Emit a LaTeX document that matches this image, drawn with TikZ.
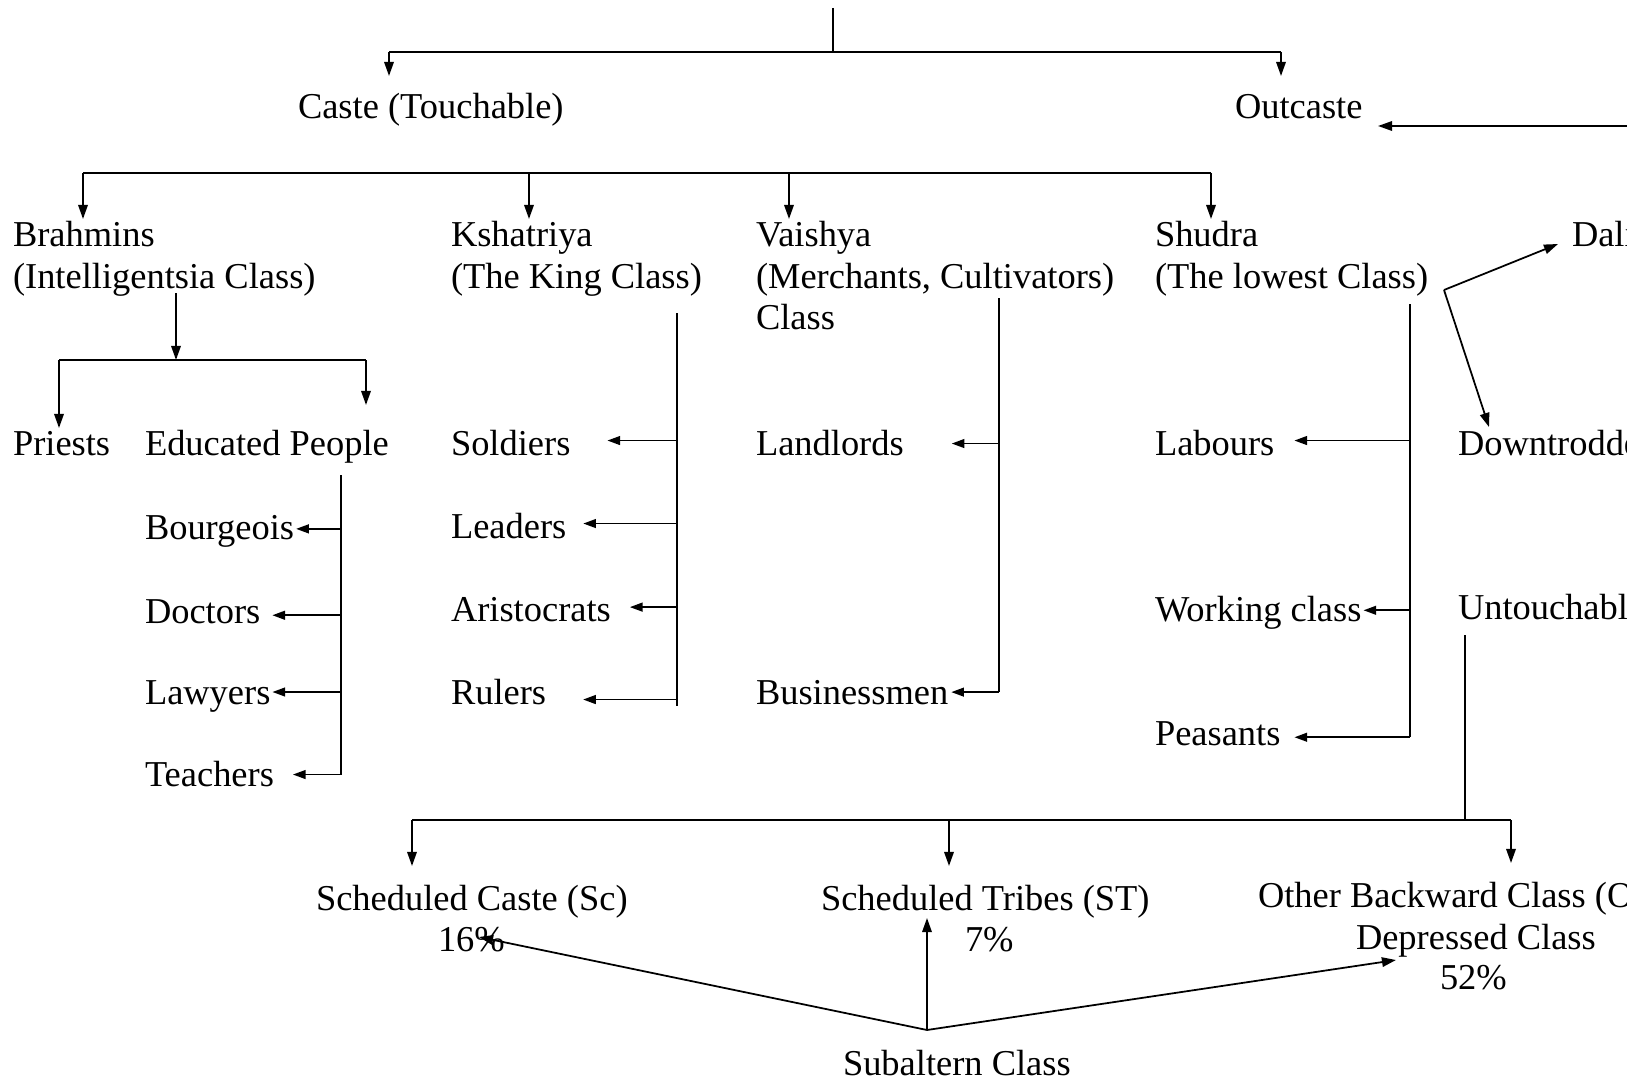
\documentclass[tikz,border=0pt]{standalone}
\usepackage{fontspec}
\setmainfont{Liberation Serif}
\usetikzlibrary{arrows.meta,calc}
\newcommand\fs{\fontsize{10.36pt}{12pt}\selectfont}
\begin{document}
\begin{tikzpicture}[x=0.01cm,y=-0.01cm,
  lbl/.style={anchor=base west,inner sep=0pt,outer sep=0pt,font=\fs},
  ln/.style={line width=0.5pt,black},
  arr/.style={ln,-{Triangle[length=4pt,width=2.7pt]}},
  tarr/.style={ln,{Triangle[length=3.6pt,width=2.5pt]}-},
]
\useasboundingbox (0,0) rectangle (1627,1082);
\clip (0,0) rectangle (1627,1082);

% ---- texts
\node[lbl] (caste) at (298,119) {Caste (Touchable)};
\node[lbl] (outc) at (1235,119) {Outcaste};
\node[lbl] (brah) at (13,247) {Brahmins};
\node[lbl] (brah2) at (13,288) {(Intelligentsia Class)};
\node[lbl] (ksh) at (451,247) {Kshatriya};
\node[lbl] (ksh2) at (451,288) {(The King Class)};
\node[lbl] (vai) at (756,247) {Vaishya};
\node[lbl] (vai2) at (756,288) {(Merchants, Cultivators)};
\node[lbl] (vai3) at (756,329) {Class};
\node[lbl] (shu) at (1155,247) {Shudra};
\node[lbl] (shu2) at (1155,288) {(The lowest Class)};
\node[lbl] (dal) at (1572,247) {Dalits};
\node[lbl] (pri) at (13,455) {Priests};
\node[lbl] (edu) at (145,455) {Educated People};
\node[lbl] (bour) at (145,539) {Bourgeois};
\node[lbl] (doc) at (145,623) {Doctors};
\node[lbl] (law) at (145,704) {Lawyers};
\node[lbl] (tea) at (145,786) {Teachers};
\node[lbl] (sol) at (451,455) {Soldiers};
\node[lbl] (lea) at (451,538) {Leaders};
\node[lbl] (ari) at (451,621) {Aristocrats};
\node[lbl] (rul) at (451,704) {Rulers};
\node[lbl] (land) at (756,455) {Landlords};
\node[lbl] (bus) at (756,704) {Businessmen};
\node[lbl] (lab) at (1155,455) {Labours};
\node[lbl] (work) at (1155,621) {Working class};
\node[lbl] (peas) at (1155,745) {Peasants};
\node[lbl] (down) at (1458,455) {Downtrodden};
\node[lbl] (unt) at (1458,619) {Untouchables};
\node[lbl] (sc) at (316,910) {Scheduled Caste (Sc)};
\node[lbl] (sc2) at (438,951) {16\%};
\node[lbl] (st) at (821,910) {Scheduled Tribes (ST)};
\node[lbl] (st2) at (965,951) {7\%};
\node[lbl] (obc) at (1258,907) {Other Backward Class (OBC)};
\node[lbl] (obc2) at (1356,949) {Depressed Class};
\node[lbl] (obc3) at (1440,989) {52\%};
\node[lbl] (sub) at (843,1075) {Subaltern Class};

% ---- top level
\coordinate (t0) at (833,8);
\coordinate (t1) at (833,52);
\coordinate (casteIn) at (389,76);
\coordinate (outIn) at (1281,76);
\draw[ln] (t0) -- (t1);
\draw[ln,line width=0.8pt] (casteIn |- t1) -- (outIn |- t1);
\draw[arr] (casteIn |- t1) -- (casteIn);
\draw[arr] (outIn |- t1) -- (outIn);
\coordinate (rEdge) at (1627,126);
\coordinate (outR) at (1378,126);
\draw[arr] (rEdge) -- (outR);

% ---- second level
\coordinate (h2) at (83,173);
\coordinate (brIn) at (83,219);
\coordinate (ksIn) at (529,219);
\coordinate (vaIn) at (789,219);
\coordinate (shIn) at (1211,219);
\draw[ln] (brIn |- h2) -- (shIn |- h2);
\draw[arr] (brIn |- h2) -- (brIn);
\draw[arr] (ksIn |- h2) -- (ksIn);
\draw[arr] (vaIn |- h2) -- (vaIn);
\draw[arr] (shIn |- h2) -- (shIn);

% ---- Brahmins
\coordinate (bA) at (176,293);
\coordinate (bB) at (176,360);
\coordinate (pIn) at (59,428);
\coordinate (eIn) at (366,405);
\draw[arr] (bA) -- (bB);
\draw[ln] (pIn |- bB) -- (eIn |- bB);
\draw[arr] (pIn |- bB) -- (pIn);
\draw[arr] (eIn |- bB) -- (eIn);

\coordinate (eT) at (341,475);
\coordinate (eB) at (341,775);
\draw[ln] (eT) -- (eB);
\draw[tarr] ($(bour.east)+(2,-2)$) coordinate (tmp) -- (tmp -| eT);
\draw[tarr] ($(doc.east)+(12,4)$) coordinate (tmp) -- (tmp -| eT);
\draw[tarr] ($(law.east)+(2,-4)$) coordinate (tmp) -- (tmp -| eT);
\draw[tarr] ($(tea.east)+(19,1)$) coordinate (tmp) -- (tmp -| eT);

% ---- Kshatriya
\coordinate (kT) at (677,313);
\coordinate (kB) at (677,706);
\draw[ln] (kT) -- (kB);
\draw[tarr] ($(sol.east)+(37,-2)$) coordinate (tmp) -- (tmp -| kT);
\draw[tarr] ($(lea.east)+(17,-2)$) coordinate (tmp) -- (tmp -| kT);
\draw[tarr] ($(ari.east)+(19,-2)$) coordinate (tmp) -- (tmp -| kT);
\draw[tarr] ($(rul.east)+(37,8)$) coordinate (tmp) -- (tmp -| kT);

% ---- Vaishya
\coordinate (vT) at (999,298);
\coordinate (vB) at (999,692);
\draw[ln] (vT) -- (vB);
\draw[tarr] ($(land.east)+(48,1)$) coordinate (tmp) -- (tmp -| vT);
\draw[tarr] ($(bus.east)+(3,0)$) coordinate (tmp) -- (tmp -| vT);

% ---- Shudra
\coordinate (sT) at (1410,304);
\coordinate (sB) at (1410,737);
\draw[ln] (sT) -- (sB);
\draw[tarr] ($(lab.east)+(20,-2)$) coordinate (tmp) -- (tmp -| sT);
\draw[tarr] ($(work.east)+(2,-2)$) coordinate (tmp) -- (tmp -| sT);
\draw[tarr] ($(peas.east)+(14,4)$) coordinate (tmp) -- (tmp -| sT);

\coordinate (sd) at (1444,290);
\coordinate (dalIn) at (1558,244);
\coordinate (downIn) at (1489,427);
\draw[arr] (sd) -- (dalIn);
\draw[arr] (sd) -- (downIn);

% ---- Untouchables
\coordinate (uA) at (1465,635);
\coordinate (uB) at (1465,820);
\coordinate (scIn) at (412,866);
\coordinate (stIn) at (949,866);
\coordinate (obIn) at (1511,863);
\draw[ln] (uA) -- (uB);
\draw[ln] (scIn |- uB) -- (obIn |- uB);
\draw[arr] (scIn |- uB) -- (scIn);
\draw[arr] (stIn |- uB) -- (stIn);
\draw[arr] (obIn |- uB) -- (obIn);

% ---- Subaltern
\coordinate (sb) at (927,1030);
\coordinate (p16) at (479,937);
\coordinate (p7) at (927,918);
\coordinate (p52) at (1396,960);
\draw[arr] (sb) -- (p16);
\draw[arr] (sb) -- (p7);
\draw[arr] (sb) -- (p52);
\end{tikzpicture}
\end{document}
